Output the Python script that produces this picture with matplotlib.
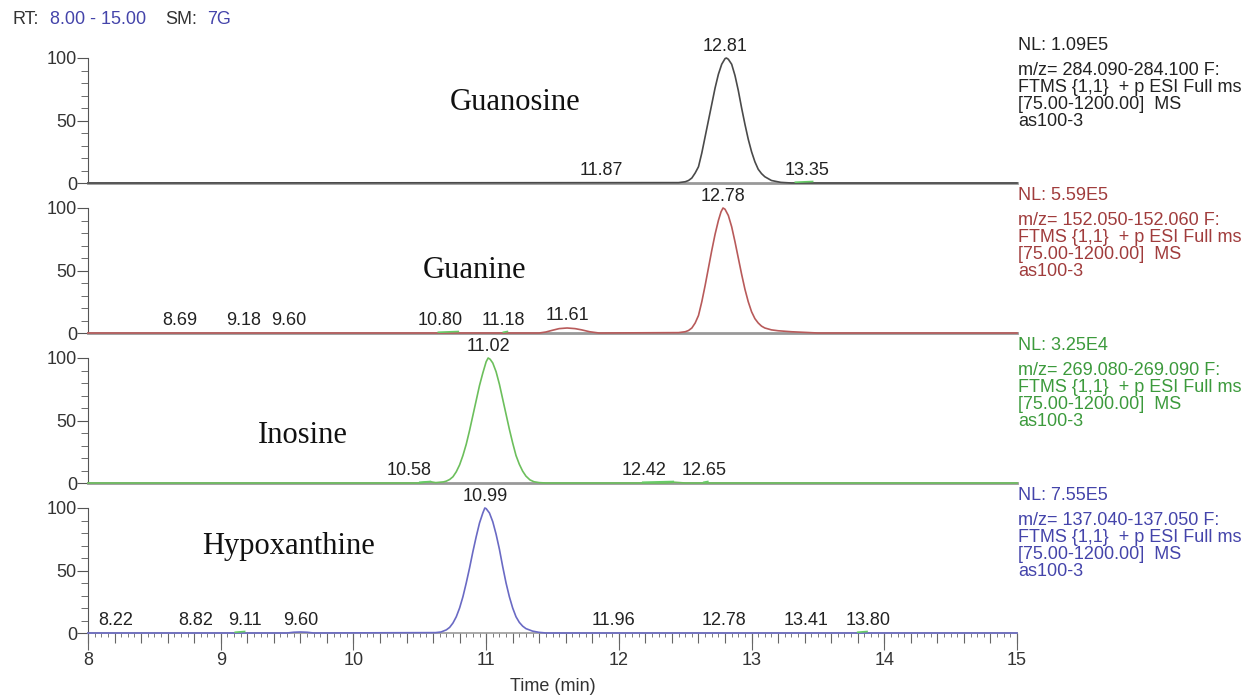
"""
Extracted ion chromatograms for four purine compounds (Xcalibur style)
"""

import matplotlib
matplotlib.use("Agg")
import matplotlib.pyplot as plt
import numpy as np
from matplotlib.ticker import MultipleLocator

# ---- data ----
t_guo = [8.00, 12.45, 12.50, 12.525, 12.55, 12.575, 12.60, 12.625, 12.65, 12.675,
         12.70, 12.725, 12.75, 12.775, 12.80, 12.81, 12.825, 12.85, 12.875, 12.90,
         12.925, 12.95, 12.975, 13.00, 13.025, 13.05, 13.075, 13.10, 13.15, 13.22,
         13.30, 15.00]
i_guo = [0, 0.3, 1, 2, 4, 8, 13, 24, 37, 50,
         63, 76, 87, 95, 99.5, 100, 99, 95, 86, 74,
         60, 47, 35, 25, 17, 11, 7.5, 5, 2, 0.5,
         0, 0]

t_gua = [8.00, 11.40, 11.45, 11.50, 11.55, 11.61, 11.67, 11.72, 11.78, 11.85,
         12.45, 12.50, 12.525, 12.55, 12.575, 12.60, 12.625, 12.65, 12.675, 12.70,
         12.725, 12.75, 12.77, 12.785, 12.80, 12.825, 12.85, 12.875, 12.90, 12.925,
         12.95, 12.975, 13.00, 13.025, 13.05, 13.075, 13.10, 13.15, 13.20, 13.30,
         13.40, 13.50, 15.00]
i_gua = [0, 0, 0.8, 2.2, 3.5, 4, 3.5, 2.5, 1, 0,
         0.3, 1, 2, 4, 8, 14, 25, 38, 52, 66,
         79, 90, 97, 100, 99, 94, 85, 73, 60, 47,
         35, 25, 17, 11.5, 8, 5.5, 4, 2.5, 1.8, 1,
         0.5, 0, 0]

t_ino = [8.00, 10.50, 10.55, 10.58, 10.62, 10.68, 10.70, 10.725, 10.75, 10.775,
         10.80, 10.825, 10.85, 10.875, 10.90, 10.925, 10.95, 10.975, 11.00, 11.015,
         11.03, 11.05, 11.075, 11.10, 11.125, 11.15, 11.175, 11.20, 11.225, 11.25,
         11.275, 11.30, 11.33, 11.36, 11.40, 11.45, 12.35, 12.42, 12.50, 15.00]
i_ino = [0, 0, 0.8, 1.0, 0.3, 0.9, 1.5, 2.8, 5, 9,
         14.5, 22, 31, 42, 54, 66, 78, 88, 97, 100,
         99, 96, 89, 79, 67, 55, 43, 32, 22, 15,
         9.5, 5.5, 2.5, 1, 0.3, 0, 0, 0.6, 0, 0]

t_hyp = [8.00, 9.50, 9.55, 9.60, 9.65, 9.70, 10.62, 10.66, 10.70, 10.725,
         10.75, 10.775, 10.80, 10.825, 10.85, 10.875, 10.90, 10.925, 10.95, 10.975,
         10.99, 11.00, 11.025, 11.05, 11.075, 11.10, 11.125, 11.15, 11.175, 11.20,
         11.225, 11.25, 11.275, 11.30, 11.35, 11.40, 11.45, 15.00]
i_hyp = [0, 0, 0.6, 0.8, 0.6, 0, 0.3, 0.8, 2.5, 4.5,
         8, 13, 20, 29, 40, 52, 65, 77, 88, 96,
         100, 99.5, 96, 89, 79, 67, 53, 40, 29, 20,
         13, 8.5, 5.5, 3.5, 1.5, 0.5, 0, 0]

names = ["Guanosine", "Guanine", "Inosine", "Hypoxanthine"]
name_pos = [(11.22, 64), (10.91, 50), (9.62, 38), (9.51, 69)]

apex_rt = ["12.81", "12.78", "11.02", "10.99"]
apex_x = [12.80, 12.785, 11.015, 10.99]

minor_rt = [
    ["11.87", "13.35"],
    ["8.69", "9.18", "9.60", "10.80", "11.18", "11.61"],
    ["10.58", "12.42", "12.65"],
    ["8.22", "8.82", "9.11", "9.60", "11.96", "12.78", "13.41", "13.80"],
]
# where the label text sits on the time axis
minor_x = [
    [11.87, 13.42],
    [8.69, 9.17, 9.51, 10.65, 11.13, 11.61],
    [10.42, 12.19, 12.64],
    [8.21, 8.81, 9.18, 9.60, 11.96, 12.79, 13.41, 13.88],
]

# small green peak-detection marks on the baseline (start, end)
marks = [
    [(13.33, 13.46)],
    [(10.64, 10.79), (11.13, 11.16)],
    [(10.50, 10.58), (12.18, 12.41), (12.64, 12.67)],
    [(9.11, 9.18), (13.80, 13.87)],
]

nl_values = ["1.09E5", "5.59E5", "3.25E4", "7.55E5"]
mz_ranges = ["284.090-284.100", "152.050-152.060", "269.080-269.090", "137.040-137.050"]

line_colors = ["#4a4a4a", "#b85a5a", "#6cbf5c", "#6a6ac4"]
text_colors = ["#222222", "#a03c3c", "#3c9a3c", "#4444aa"]

traces = [(t_guo, i_guo), (t_gua, i_gua), (t_ino, i_ino), (t_hyp, i_hyp)]

W, H = 1258, 695
fig = plt.figure(figsize=(W / 100, H / 100), dpi=100)
sans = ["Liberation Sans", "DejaVu Sans"]
serif = ["Liberation Serif", "DejaVu Serif"]
fs = 13

left_px, right_px = 88, 1017
for k in range(4):
    zero_px = 183 + 150 * k
    ax = fig.add_axes([left_px / W, (H - zero_px) / H,
                       (right_px - left_px) / W, 125 / H])
    ax.set_xlim(8, 15)
    ax.set_ylim(0, 100)
    for s in ["top", "right"]:
        ax.spines[s].set_visible(False)
    ax.spines["left"].set_color("#555555")
    ax.spines["bottom"].set_color("#999999")
    ax.spines["bottom"].set_linewidth(2 if k < 3 else 1.2)

    ax.yaxis.set_major_locator(MultipleLocator(50))
    ax.yaxis.set_minor_locator(MultipleLocator(10))
    ax.tick_params(axis="y", which="major", length=8, color="#555555",
                   labelsize=fs, labelcolor="#333333", pad=0)
    ax.tick_params(axis="y", which="minor", length=5, color="#555555")
    for lab in ax.get_yticklabels():
        lab.set_family(sans)

    tt, ii = traces[k]
    ax.plot(tt, ii, color=line_colors[k], lw=1.2, clip_on=False, zorder=3)

    for a, b in marks[k]:
        ax.plot([a, b], [0.6, 1.2], color="#66cc66", lw=1.2, zorder=4)

    # peak labels
    ax.text(apex_x[k], 102.5, apex_rt[k], ha="center", va="bottom",
            fontsize=fs, family=sans, color="#222222")
    for r, x in zip(minor_rt[k], minor_x[k]):
        y = 7 if r == "11.61" and k == 1 else 3.5
        ax.text(x, y, r, ha="center", va="bottom",
                fontsize=fs, family=sans, color="#222222")

    nx, ny = name_pos[k]
    ax.text(nx, ny, names[k], ha="center", va="center", fontsize=22,
            family=serif, color="#111111")

    if k < 3:
        ax.set_xticks([])
    else:
        ax.xaxis.set_major_locator(MultipleLocator(1))
        ax.xaxis.set_minor_locator(MultipleLocator(0.05))
        ax.tick_params(axis="x", which="major", length=12, color="#666666",
                       labelsize=fs, labelcolor="#333333", pad=2)
        ax.tick_params(axis="x", which="minor", length=3, color="#666666")
        for lab in ax.get_xticklabels():
            lab.set_family(sans)
        sec = ax.secondary_xaxis("bottom")
        sec.set_xticks(np.arange(8, 15.01, 0.2))
        sec.tick_params(length=7, color="#666666", labelbottom=False)
        sec.spines["bottom"].set_visible(False)
        ax.set_xlabel("Time (min)", fontsize=fs, family=sans,
                      color="#333333", labelpad=6)

    # right-hand header block
    x0 = 1018 / W
    top = 45 + 150 * k
    fig.text(x0, 1 - top / H, "NL: " + nl_values[k], fontsize=fs,
             family=sans, color=text_colors[k], va="center")
    lines = ["m/z= " + mz_ranges[k] + " F:",
             "FTMS {1,1}  + p ESI Full ms",
             "[75.00-1200.00]  MS",
             "as100-3"]
    for j, s in enumerate(lines):
        fig.text(x0, 1 - (top + 25.7 + 16.8 * j) / H, s, fontsize=fs,
                 family=sans, color=text_colors[k], va="center")

# top-left header
hdr_y = 1 - 20 / H
fig.text(12 / W, hdr_y, "RT:", fontsize=fs, family=sans, color="#333333", va="center")
fig.text(50 / W, hdr_y, "8.00 - 15.00", fontsize=fs, family=sans, color="#4444aa", va="center")
fig.text(165 / W, hdr_y, "SM:", fontsize=fs, family=sans, color="#333333", va="center")
fig.text(207 / W, hdr_y, "7G", fontsize=fs, family=sans, color="#4444aa", va="center")

fig.savefig("out.png", dpi=100)
